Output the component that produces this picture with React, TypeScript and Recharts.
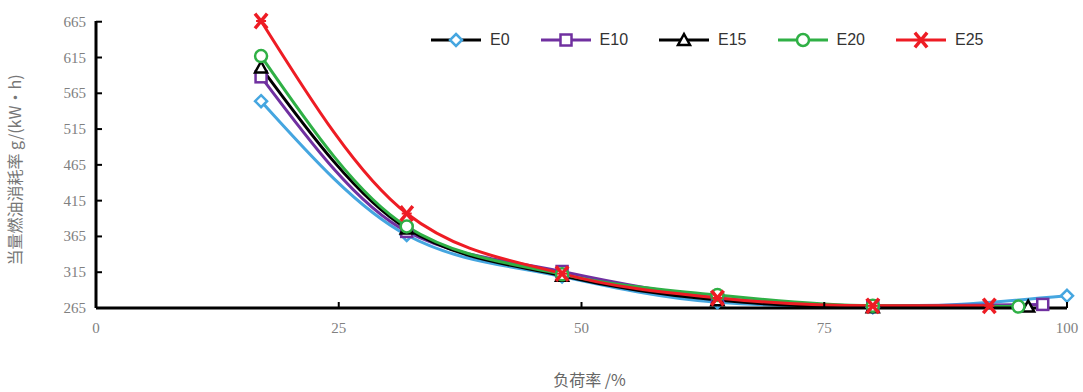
import React from "react";
import { LineChart, Line, XAxis, YAxis, Label } from "recharts";

// load rate (%) at the five common test points
const loads = [17, 32, 48, 64, 80];
// last (full-load) point of each fuel
const seriesNames = ["E0", "E10", "E15", "E20", "E25"];
const maxLoads = [100, 97.5, 96, 95, 92];

// equivalent fuel consumption, g/(kW·h)
const e0 = [554, 367, 309, 273, 266, 282];
const e10 = [588, 372, 316, 279, 268, 270];
const e15 = [601, 376, 310, 276, 266, 267];
const e20 = [617, 379, 312, 283, 268, 267];
const e25 = [666, 397, 313, 279, 268, 268];

const yTicks = [265, 315, 365, 415, 465, 515, 565, 615, 665];
const xTicks = [0, 25, 50, 75, 100];

const COLORS = ["#45a6e0", "#7030a0", "#000000", "#2fb045", "#ee1c24"];
const LEGEND_LINE = ["#000000", "#7030a0", "#000000", "#2fb045", "#ee1c24"];

const build = (vals: number[], i: number) =>
  vals.map((y, k) => ({ x: k < loads.length ? loads[k] : maxLoads[i], y }));

const seriesData = [e0, e10, e15, e20, e25].map((v, i) => build(v, i));

function Marker({ kind, cx, cy, color }: { kind: number; cx: number; cy: number; color: string }) {
  if (kind === 0) {
    const r = 6;
    return (
      <polygon
        points={`${cx},${cy - r} ${cx + r},${cy} ${cx},${cy + r} ${cx - r},${cy}`}
        fill="#fff"
        stroke={color}
        strokeWidth={2.5}
      />
    );
  }
  if (kind === 1) {
    return <rect x={cx - 5.5} y={cy - 5.5} width={11} height={11} fill="#fff" stroke={color} strokeWidth={2.5} />;
  }
  if (kind === 2) {
    return (
      <polygon
        points={`${cx},${cy - 6} ${cx + 6},${cy + 5} ${cx - 6},${cy + 5}`}
        fill="#fff"
        stroke={color}
        strokeWidth={2.5}
      />
    );
  }
  if (kind === 3) {
    return <circle cx={cx} cy={cy} r={6} fill="#fff" stroke={color} strokeWidth={2.5} />;
  }
  return (
    <g stroke={color} strokeWidth={3.5} strokeLinecap="square">
      <line x1={cx - 5} y1={cy - 6} x2={cx + 5} y2={cy + 6} />
      <line x1={cx - 5} y1={cy + 6} x2={cx + 5} y2={cy - 6} />
      <line x1={cx - 4} y1={cy} x2={cx + 4} y2={cy} strokeWidth={2} />
    </g>
  );
}

const XTick = (props: any) => {
  const { x, y, payload } = props;
  return (
    <g>
      <line x1={x} x2={x} y1={y} y2={y - 6} stroke="#000" strokeWidth={2} />
      <text x={x} y={y + 25} textAnchor="middle" fill="#808080" fontSize={15} fontFamily="Liberation Serif">
        {payload.value}
      </text>
    </g>
  );
};

const YTick = (props: any) => {
  const { x, y, payload } = props;
  return (
    <g>
      <line x1={x} x2={x + 6} y1={y} y2={y} stroke="#000" strokeWidth={2} />
      <text x={x - 10} y={y + 5} textAnchor="end" fill="#808080" fontSize={15} fontFamily="Liberation Serif">
        {payload.value}
      </text>
    </g>
  );
};

export default function App() {
  return (
    <div style={{ position: "absolute", left: 0, top: 0, width: 1083, height: 392, background: "#fff" }}>
      <LineChart width={1083} height={392} margin={{ top: 21, right: 16, left: 0, bottom: 0 }}>
        <XAxis
          type="number"
          dataKey="x"
          domain={[0, 100]}
          ticks={xTicks}
          height={84}
          axisLine={{ stroke: "#000", strokeWidth: 3 }}
          tickLine={false}
          tickSize={0}
          tickMargin={0}
          tick={<XTick />}
          interval={0}
        >
          <Label
            value="负荷率 /%"
            position="insideBottom"
            offset={6}
            dx={8}
            fill="#666"
            fontSize={16}
            fontFamily="'Noto Sans CJK SC'"
          />
        </XAxis>
        <YAxis
          type="number"
          domain={[265, 665]}
          ticks={yTicks}
          width={96}
          axisLine={{ stroke: "#000", strokeWidth: 3 }}
          tickLine={false}
          tickSize={0}
          tickMargin={0}
          tick={<YTick />}
          interval={0}
        >
          <Label
            content={() => (
              <text
                x={21}
                y={170}
                transform="rotate(-90 21 170)"
                textAnchor="middle"
                fill="#777"
                fontSize={16}
                fontFamily="'Noto Sans CJK SC'"
              >
                当量燃油消耗率 g/(kW·h)
              </text>
            )}
          />
        </YAxis>
        {seriesNames.map((name, i) => (
          <Line
            key={name}
            data={seriesData[i]}
            dataKey="y"
            name={name}
            type="monotone"
            stroke={COLORS[i]}
            strokeWidth={3}
            isAnimationActive={false}
            dot={(p: any) => <Marker key={`${name}-${p.index}`} kind={i} cx={p.cx} cy={p.cy} color={COLORS[i]} />}
            activeDot={false}
          />
        ))}
      </LineChart>
      <div
        style={{
          position: "absolute",
          left: 430,
          top: 31,
          display: "flex",
          alignItems: "center",
          fontFamily: "'Liberation Sans', Arial, sans-serif",
          fontSize: 16,
          color: "#333",
        }}
      >
        {seriesNames.map((name, i) => (
          <div key={name} style={{ display: "flex", alignItems: "center", marginRight: 30 }}>
            <svg width={52} height={18}>
              <line x1={1} x2={51} y1={9} y2={9} stroke={LEGEND_LINE[i]} strokeWidth={3} />
              <Marker kind={i} cx={26} cy={9} color={COLORS[i]} />
            </svg>
            <span style={{ marginLeft: 8 }}>{name}</span>
          </div>
        ))}
      </div>
    </div>
  );
}
